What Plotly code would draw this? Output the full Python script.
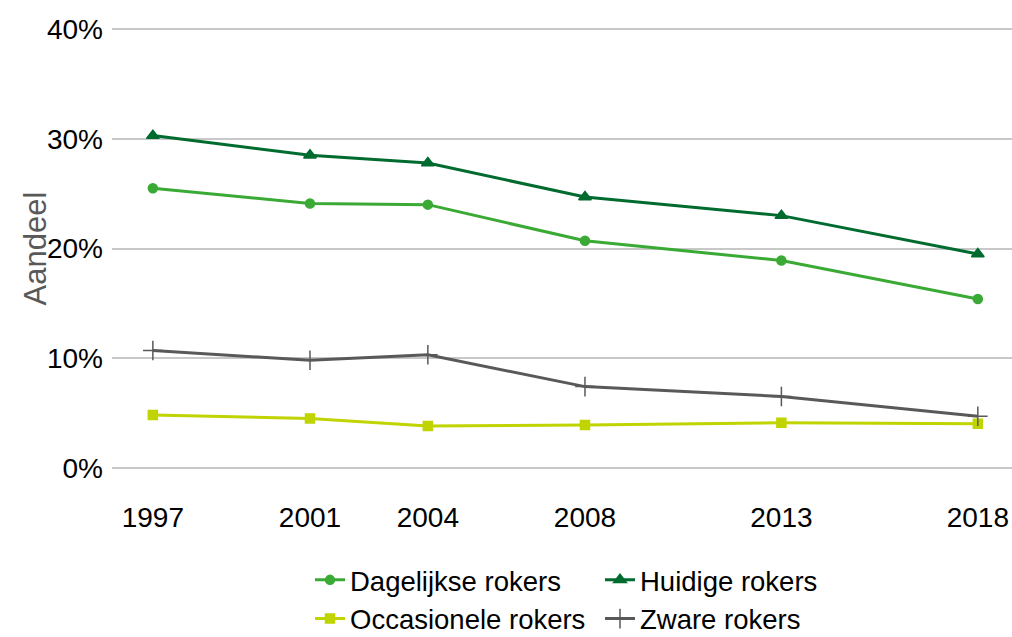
import plotly.graph_objects as go

# Survey years and share of smokers (%) per category
jaren = [1997, 2001, 2004, 2008, 2013, 2018]
dagelijkse = [25.5, 24.1, 24.0, 20.7, 18.9, 15.4]
huidige = [30.3, 28.5, 27.8, 24.7, 23.0, 19.5]
occasionele = [4.8, 4.5, 3.8, 3.9, 4.1, 4.0]
zware = [10.7, 9.8, 10.3, 7.4, 6.5, 4.7]

y_ticks = [0, 10, 20, 30, 40]
y_labels = ["0%", "10%", "20%", "30%", "40%"]

FONT = "Liberation Sans, Arial, sans-serif"

series = [
    ("Dagelijkse rokers", dagelijkse, "#3aaa35", "circle", 9, "legend"),
    ("Huidige rokers", huidige, "#006b2f", "triangle-up", 11, "legend2"),
    ("Occasionele rokers", occasionele, "#bfd400", "square", 9, "legend"),
    ("Zware rokers", zware, "#595959", "cross-thin", 14, "legend2"),
]

fig = go.Figure()
for naam, waarden, kleur, symbool, grootte, leg in series:
    fig.add_trace(go.Scatter(
        x=jaren, y=waarden, name=naam, mode="lines+markers",
        line=dict(color=kleur, width=3),
        marker=dict(symbol=symbool, size=grootte, color=kleur,
                    line=dict(color=kleur, width=1.5)),
        legend=leg,
    ))

legend_style = dict(
    yref="container", y=0.128, yanchor="top", orientation="v",
    xanchor="left", xref="paper",
    font=dict(size=27.5), tracegroupgap=0, itemwidth=30,
    bgcolor="rgba(0,0,0,0)",
)

# pixel scale: 0% at y=468, 40% at y=29; pad range so edge gridlines render
pad = 0.3
px_per_pct = 439 / 40

fig.update_layout(
    width=1012, height=637,
    margin=dict(l=112, r=0, t=29 - pad * px_per_pct, b=637 - 468 - pad * px_per_pct),
    paper_bgcolor="white", plot_bgcolor="white",
    font=dict(family=FONT, size=28, color="#000000"),
    xaxis=dict(
        range=[1995.96, 2018.87], tickvals=jaren, ticktext=[str(j) for j in jaren],
        showgrid=False, zeroline=False, showline=False, ticks="",
        ticklabelstandoff=27, tickfont=dict(size=28),
    ),
    yaxis=dict(
        range=[-pad, 40 + pad], tickvals=y_ticks, ticktext=y_labels,
        showgrid=True, gridcolor="#c8c8c8", gridwidth=1.5,
        zeroline=False, showline=False, ticks="",
        ticklabelstandoff=8, tickfont=dict(size=28),
    ),
    legend=dict(x=(310 - 112) / 900, **legend_style),
    legend2=dict(x=(600 - 112) / 900, **legend_style),
    annotations=[dict(
        text="Aandeel", textangle=-90, showarrow=False,
        xref="paper", yref="y",
        x=(35 - 112) / 900, y=20.0,
        xanchor="center", yanchor="middle",
        font=dict(family=FONT, size=31, color="#595959"),
    )],
)

fig.write_html("out.html")
